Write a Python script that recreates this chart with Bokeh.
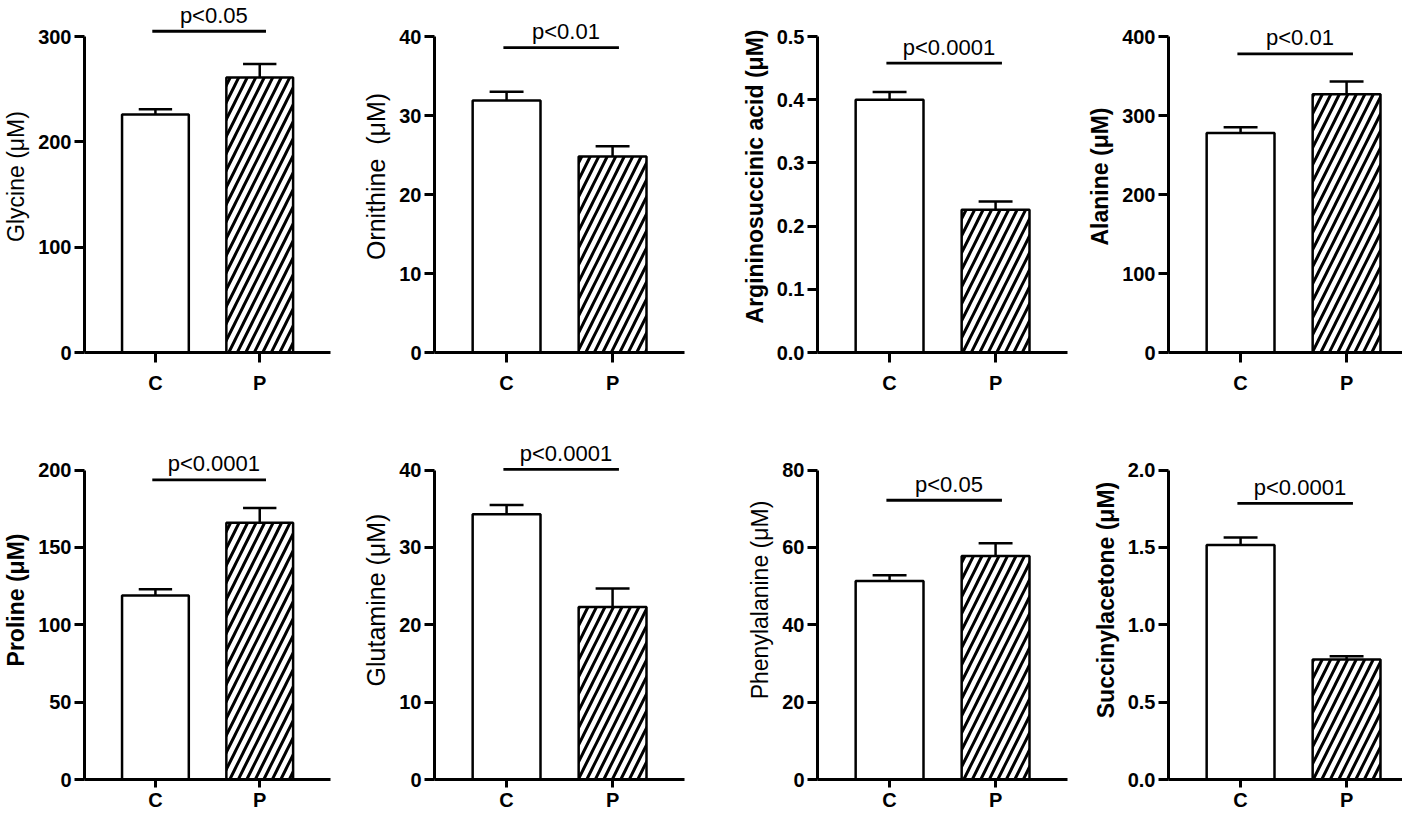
from bokeh.plotting import figure
from bokeh.layouts import row, column
from bokeh.models import Range1d, FixedTicker
from bokeh.core.properties import value
from bokeh.embed import file_html
from bokeh.resources import INLINE

# ---------------- data ----------------
groups = ["C", "P"]
analytes = ["Glycine", "Ornithine", "Argininosuccinic acid", "Alanine",
            "Proline", "Glutamine", "Phenylalanine", "Succinylacetone"]
y_titles = ["Glycine (μM)", "Ornithine\u00a0 (μM)", "Argininosuccinic acid (μM)", "Alanine (μM)",
            "Proline (μM)", "Glutamine (μM)", "Phenylalanine (μM)", "Succinylacetone (μM)"]
c_means = [226, 31.9, 0.400, 278, 119, 34.3, 51.3, 1.515]
c_errs = [5, 1.1, 0.012, 7, 4, 1.2, 1.5, 0.050]
p_means = [261, 24.8, 0.226, 327, 166, 22.3, 57.8, 0.775]
p_errs = [13, 1.3, 0.013, 16, 9.5, 2.4, 3.3, 0.022]
y_max = [300, 40, 0.5, 400, 200, 40, 80, 2.0]
y_ticks = [[0, 100, 200, 300], [0, 10, 20, 30, 40], [0, 0.1, 0.2, 0.3, 0.4, 0.5], [0, 100, 200, 300, 400],
           [0, 50, 100, 150, 200], [0, 10, 20, 30, 40], [0, 20, 40, 60, 80], [0, 0.5, 1.0, 1.5, 2.0]]
y_tick_labels = [["0", "100", "200", "300"], ["0", "10", "20", "30", "40"],
                 ["0.0", "0.1", "0.2", "0.3", "0.4", "0.5"], ["0", "100", "200", "300", "400"],
                 ["0", "50", "100", "150", "200"], ["0", "10", "20", "30", "40"],
                 ["0", "20", "40", "60", "80"], ["0.0", "0.5", "1.0", "1.5", "2.0"]]
sig_levels = [305, 38.6, 0.458, 378, 193.7, 40.1, 72.2, 1.785]
p_labels = ["p<0.05", "p<0.01", "p<0.0001", "p<0.01", "p<0.0001", "p<0.0001", "p<0.05", "p<0.0001"]

# ---------------- styles / layout ----------------
FONT = "Liberation Sans"
title_bold = [False, False, True, True, True, False, False, True]
title_size = ["23px", "25px", "23px", "23px", "23px", "25px", "23px", "23px"]
col_w = [340, 360, 375, 327]
col_left = [80, 94, 117, 93]
col_right = [10, 16, 8, 0]
row_h = [412, 401]
row_top = [0, 8]
row_bottom = [60, 31]
tick_span = [316, 312]       # pixels between 0 and the top tick
PX_PER_GROUP = 106.0
X0 = 0.32

figs = []
for i in range(8):
    r, c = divmod(i, 4)
    w, h = col_w[c], row_h[r]
    frame_w = w - col_left[c] - col_right[c]
    frame_h = h - row_top[r] - row_bottom[r]
    ymax = y_max[i]
    p = figure(width=w, height=h, output_backend="svg", toolbar_location=None,
               x_range=Range1d(X0, X0 + frame_w / PX_PER_GROUP),
               y_range=Range1d(0, ymax * frame_h / tick_span[r]),
               min_border_left=col_left[c], min_border_right=col_right[c],
               min_border_top=row_top[r], min_border_bottom=row_bottom[r])
    p.outline_line_color = None
    p.xgrid.visible = False
    p.ygrid.visible = False
    p.background_fill_color = "white"
    p.border_fill_color = "white"

    xs = [1, 2]
    means = [c_means[i], p_means[i]]
    errs = [c_errs[i], p_errs[i]]
    tops = [m + e for m, e in zip(means, errs)]

    # error bars (upper only)
    p.segment(x0=xs, y0=means, x1=xs, y1=tops, line_color="black", line_width=2.5)
    p.segment(x0=[x - 0.16 for x in xs], y0=tops, x1=[x + 0.16 for x in xs], y1=tops,
              line_color="black", line_width=2.5)
    # bars
    p.vbar(x=[1], top=[c_means[i]], width=0.64, bottom=0, fill_color="white",
           line_color="black", line_width=2.5)
    p.vbar(x=[2], top=[p_means[i]], width=0.64, bottom=0, fill_color="white",
           line_color="black", line_width=2.5, hatch_pattern="right_diagonal_line",
           hatch_color="black", hatch_weight=3, hatch_scale=17)

    # significance bracket
    p.segment(x0=[0.97], y0=[sig_levels[i]], x1=[2.06], y1=[sig_levels[i]],
              line_color="black", line_width=2.8)
    p.text(x=[1.56], y=[sig_levels[i]], text=[p_labels[i]], text_align="center",
           text_baseline="alphabetic", y_offset=-16, text_font=value(FONT),
           text_font_size="22px", text_color="black")

    # axes
    ya = p.yaxis[0]
    ya.ticker = FixedTicker(ticks=y_ticks[i])
    ya.major_label_overrides = {t: s for t, s in zip(y_ticks[i], y_tick_labels[i])}
    ya.bounds = (0, ymax)
    ya.axis_line_width = 3
    ya.major_tick_line_width = 3
    ya.major_tick_out = 10
    ya.major_tick_in = 0
    ya.minor_tick_out = 0
    ya.minor_tick_in = 0
    ya.major_label_standoff = 3
    ya.major_label_text_font = FONT
    ya.major_label_text_font_size = "20px"
    ya.major_label_text_font_style = "bold"
    ya.major_label_text_color = "black"
    ya.axis_label = y_titles[i]
    ya.axis_label_text_font = FONT
    ya.axis_label_text_font_size = title_size[i]
    ya.axis_label_text_font_style = "bold" if title_bold[i] else "normal"
    ya.axis_label_text_color = "black"
    ya.axis_label_standoff = 6

    xa = p.xaxis[0]
    xa.ticker = FixedTicker(ticks=xs)
    xa.major_label_overrides = {1: groups[0], 2: groups[1]}
    xa.axis_line_width = 3
    xa.major_tick_line_width = 3
    xa.major_tick_out = 10 if r == 0 else 8
    xa.major_tick_in = 0
    xa.minor_tick_out = 0
    xa.minor_tick_in = 0
    xa.major_label_standoff = 9 if r == 0 else 1
    xa.major_label_text_font = FONT
    xa.major_label_text_font_size = "20px"
    xa.major_label_text_font_style = "bold"
    xa.major_label_text_color = "black"
    figs.append(p)

layout = column(row(*figs[:4]), row(*figs[4:]))
open("out.html", "w").write(file_html(layout, INLINE))
